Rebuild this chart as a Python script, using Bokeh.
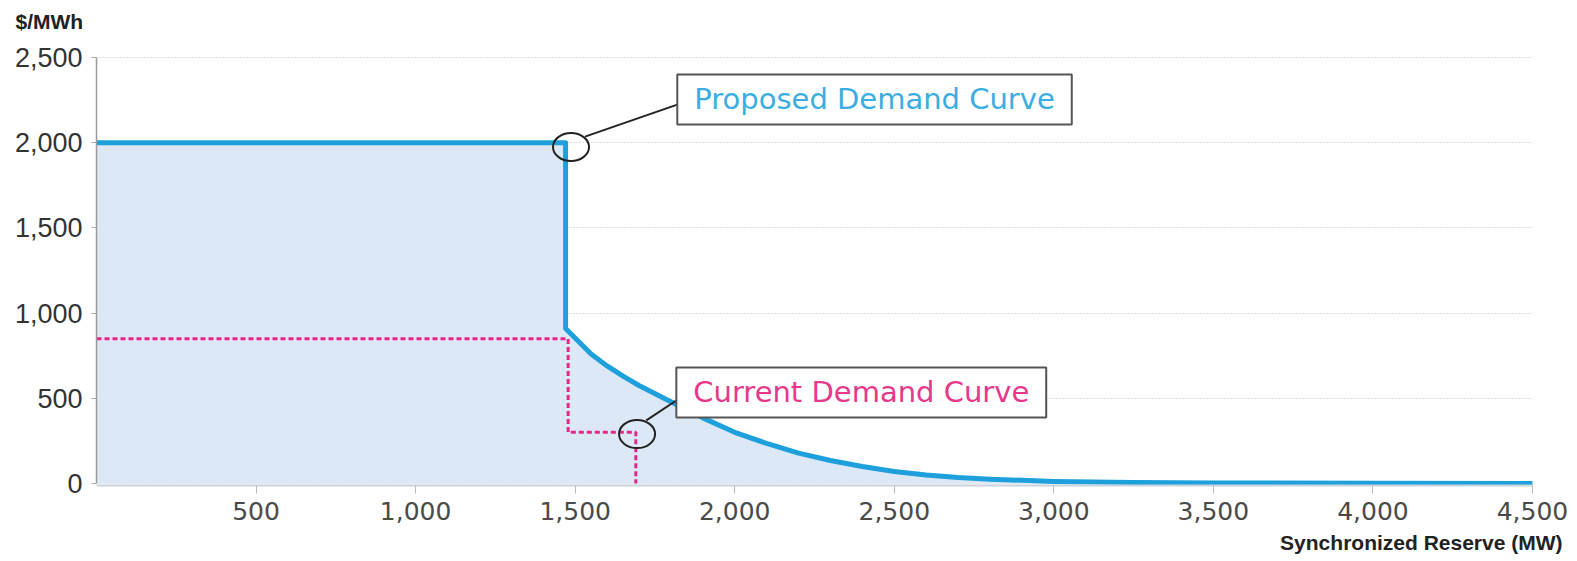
from bokeh.plotting import figure
from bokeh.models import Label, FixedTicker, Range1d, Title
from bokeh.embed import file_html
from bokeh.resources import INLINE

# ---- data ----
prop_x = [0, 1470, 1470, 1550, 1600, 1650, 1700, 1800, 1900, 2000, 2100, 2200, 2300, 2400,
          2500, 2600, 2700, 2800, 3000, 3250, 3500, 4000, 4500]
prop_y = [2000, 2000, 910, 760, 690, 630, 575, 480, 385, 300, 235, 178, 135, 100,
          70, 50, 35, 25, 12, 6, 3, 1, 0]
curr_x = [0, 1478, 1478, 1690, 1690]
curr_y = [850, 850, 300, 300, 0]

x_ticks = [500, 1000, 1500, 2000, 2500, 3000, 3500, 4000, 4500]
x_tick_labels = ["500", "1,000", "1,500", "2,000", "2,500", "3,000", "3,500", "4,000", "4,500"]
y_ticks = [0, 500, 1000, 1500, 2000, 2500]
y_tick_labels = ["0", "500", "1,000", "1,500", "2,000", "2,500"]

# annotation anchors (data units)
circle_x = [1487, 1694]
circle_y = [1975, 290]
leader_x0 = [1531, 1723]
leader_y0 = [2036, 370]
leader_x1 = [1820, 1817]
leader_y1 = [2224, 487]
label_texts = ["Proposed Demand Curve", "Current Demand Curve"]
label_x = [1820, 1817]
label_y = [2254, 534]

BLUE = "#1ea0dc"
PINK = "#e8268a"

p = figure(width=1575, height=561, output_backend="svg", toolbar_location=None,
           x_range=Range1d(0, 4500), y_range=Range1d(-12, 2606),
           min_border_left=96, min_border_right=43, min_border_top=39, min_border_bottom=76)
p.outline_line_color = None
p.background_fill_color = "white"
p.border_fill_color = "white"

p.xgrid.grid_line_color = None
p.ygrid.grid_line_color = "#c4c4c4"
p.ygrid.grid_line_dash = "1 2"
p.ygrid.grid_line_width = 1

p.xaxis.ticker = FixedTicker(ticks=x_ticks)
p.yaxis.ticker = FixedTicker(ticks=y_ticks)
p.yaxis.bounds = (0, 2500)
p.xaxis.major_label_overrides = {t: l for t, l in zip(x_ticks, x_tick_labels)}
p.yaxis.major_label_overrides = {t: l for t, l in zip(y_ticks, y_tick_labels)}

p.xaxis.axis_line_color = "#c9d3de"
p.xaxis.axis_line_width = 2
p.xaxis.major_tick_line_color = "#bbbbbb"
p.xaxis.major_tick_out = 8
p.xaxis.major_tick_in = 0
p.xaxis.minor_tick_line_color = None
p.xaxis.major_label_text_font = "DejaVu Sans"
p.xaxis.major_label_text_font_size = "25px"
p.xaxis.major_label_text_color = "#4a4a4a"
p.xaxis.major_label_standoff = 8

p.yaxis.axis_line_color = "#9a9a9a"
p.yaxis.axis_line_width = 1.5
p.yaxis.major_tick_line_color = "#aaaaaa"
p.yaxis.major_tick_out = 5
p.yaxis.major_tick_in = 0
p.yaxis.minor_tick_line_color = None
p.yaxis.major_label_text_font = "Liberation Sans"
p.yaxis.major_label_text_font_size = "27px"
p.yaxis.major_label_text_color = "#333333"
p.yaxis.major_label_standoff = 9

# fill and curves
p.varea(x=prop_x, y1=[0] * len(prop_x), y2=prop_y, fill_color="#dce8f5")
p.line(curr_x, curr_y, line_color=PINK, line_width=3, line_dash="5 3")
p.line(prop_x, prop_y, line_color=BLUE, line_width=5, line_cap="round", line_join="round")

# callouts
p.segment(x0=leader_x0, y0=leader_y0, x1=leader_x1, y1=leader_y1, line_color="#222222", line_width=2)
p.ellipse(x=circle_x, y=circle_y, width=36, height=28, width_units="screen", height_units="screen",
          fill_color=None, line_color="#222222", line_width=2)

for txt, lx, ly, col in zip(label_texts, label_x, label_y, ["#3aaee2", "#e8388c"]):
    p.add_layout(Label(x=lx, y=ly, text=txt, text_align="left", text_baseline="middle",
                       text_font="DejaVu Sans", text_font_size="29px", text_color=col,
                       background_fill_color="white", border_line_color="#555555",
                       border_line_width=2, padding=(17, 8)))

p.add_layout(Title(text="$/MWh", align="left", offset=-81, standoff=13,
                   text_font="Liberation Sans", text_font_style="bold",
                   text_font_size="21px", text_color="#222222"), "above")
p.add_layout(Title(text="Synchronized Reserve (MW)", align="right", offset=-30, standoff=12,
                   text_font="Liberation Sans", text_font_style="bold",
                   text_font_size="21px", text_color="#222222"), "below")

open("out.html", "w").write(file_html(p, INLINE))
